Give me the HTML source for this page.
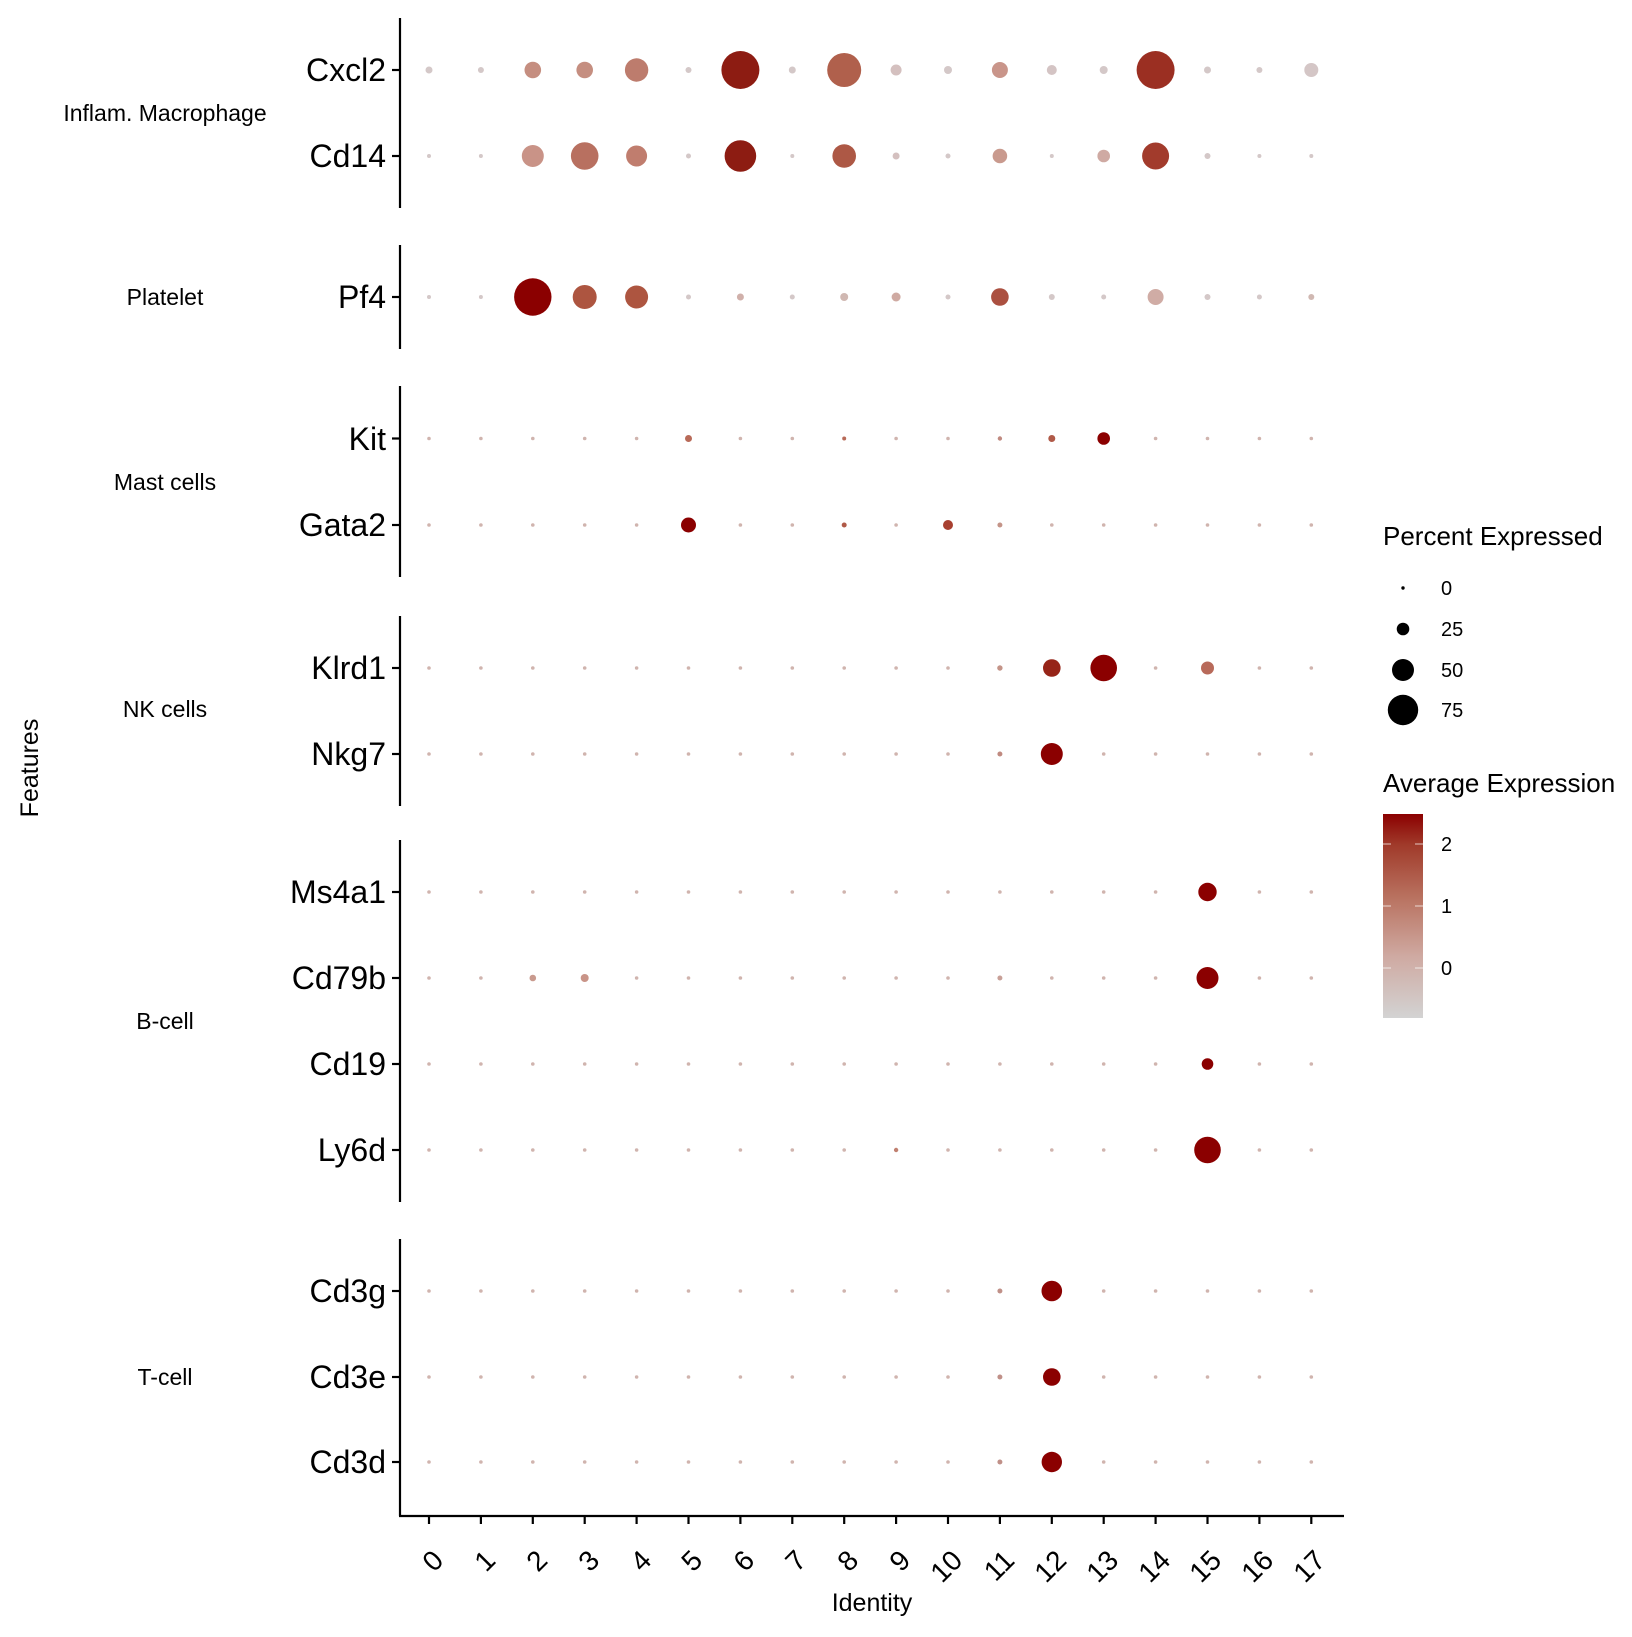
<!DOCTYPE html>
<html><head><meta charset="utf-8"><style>
html,body{margin:0;padding:0;background:#fff;}
svg text{font-family:"Liberation Sans",Arial,sans-serif;fill:#000;}
</style></head><body>
<svg id="s" width="1632" height="1632" viewBox="0 0 1632 1632" xmlns="http://www.w3.org/2000/svg">
<defs><linearGradient id="g" x1="0" y1="1" x2="0" y2="0">
<stop offset="0" stop-color="#d3d3d3"/><stop offset="0.3" stop-color="#cfaaa2"/><stop offset="0.6" stop-color="#b8705e"/><stop offset="0.85" stop-color="#a03a2a"/><stop offset="1" stop-color="#8b0000"/></linearGradient></defs>
<g stroke="#000" stroke-width="2.2">
<line x1="400" y1="18" x2="400" y2="208"/>
<line x1="400" y1="245" x2="400" y2="349"/>
<line x1="400" y1="386" x2="400" y2="577"/>
<line x1="400" y1="616" x2="400" y2="806"/>
<line x1="400" y1="840" x2="400" y2="1202"/>
<line x1="400" y1="1239" x2="400" y2="1516"/>
<line x1="399" y1="1516" x2="1344" y2="1516"/>
</g>
<g id="ticks" stroke="#000" stroke-width="2.2"></g>
<g font-size="32" text-anchor="end">
<text x="386" y="81">Cxcl2</text><text x="386" y="167">Cd14</text>
<text x="386" y="308">Pf4</text>
<text x="386" y="450">Kit</text><text x="386" y="536">Gata2</text>
<text x="386" y="679">Klrd1</text><text x="386" y="765">Nkg7</text>
<text x="386" y="903">Ms4a1</text><text x="386" y="989">Cd79b</text><text x="386" y="1075">Cd19</text><text x="386" y="1161">Ly6d</text>
<text x="386" y="1302">Cd3g</text><text x="386" y="1388">Cd3e</text><text x="386" y="1473">Cd3d</text>
</g>
<g font-size="23" text-anchor="middle">
<text x="165" y="121">Inflam. Macrophage</text>
<text x="165" y="305">Platelet</text>
<text x="165" y="490">Mast cells</text>
<text x="165" y="717">NK cells</text>
<text x="165" y="1029">B-cell</text>
<text x="165" y="1385">T-cell</text>
</g>
<text x="38" y="768" font-size="25" text-anchor="middle" transform="rotate(-90 38 768)">Features</text>
<text x="872" y="1611" font-size="25" text-anchor="middle">Identity</text>
<g font-size="28" text-anchor="end">
<text transform="translate(445,1562) rotate(-45)">0</text>
<text transform="translate(497,1562) rotate(-45)">1</text>
<text transform="translate(549,1562) rotate(-45)">2</text>
<text transform="translate(601,1562) rotate(-45)">3</text>
<text transform="translate(653,1562) rotate(-45)">4</text>
<text transform="translate(704,1562) rotate(-45)">5</text>
<text transform="translate(756,1562) rotate(-45)">6</text>
<text transform="translate(808,1562) rotate(-45)">7</text>
<text transform="translate(860,1562) rotate(-45)">8</text>
<text transform="translate(912,1562) rotate(-45)">9</text>
<text transform="translate(964,1562) rotate(-45)">10</text>
<text transform="translate(1016,1562) rotate(-45)">11</text>
<text transform="translate(1068,1562) rotate(-45)">12</text>
<text transform="translate(1120,1562) rotate(-45)">13</text>
<text transform="translate(1172,1562) rotate(-45)">14</text>
<text transform="translate(1223,1562) rotate(-45)">15</text>
<text transform="translate(1275,1562) rotate(-45)">16</text>
<text transform="translate(1327,1562) rotate(-45)">17</text>
</g>
<text x="1383" y="545" font-size="26">Percent Expressed</text>
<circle cx="1403" cy="588" r="1.7" fill="#000"/>
<circle cx="1403" cy="629" r="6.3" fill="#000"/>
<circle cx="1403" cy="670" r="11" fill="#000"/>
<circle cx="1403" cy="710" r="15.2" fill="#000"/>
<g font-size="20"><text x="1441" y="595">0</text><text x="1441" y="636">25</text><text x="1441" y="677">50</text><text x="1441" y="717">75</text>
<text x="1441" y="851">2</text><text x="1441" y="913">1</text><text x="1441" y="975">0</text></g>
<text x="1383" y="792" font-size="26">Average Expression</text>
<rect x="1383" y="814" width="40" height="204" fill="url(#g)"/>
<g stroke="#fff" stroke-opacity="0.6" stroke-width="1.2">
<line x1="1383" y1="844" x2="1391" y2="844"/><line x1="1415" y1="844" x2="1423" y2="844"/>
<line x1="1383" y1="906" x2="1391" y2="906"/><line x1="1415" y1="906" x2="1423" y2="906"/>
<line x1="1383" y1="968" x2="1391" y2="968"/><line x1="1415" y1="968" x2="1423" y2="968"/>
</g>
<g id="dots"></g>
</svg>
<script>
var NS="http://www.w3.org/2000/svg";
var X=[];for(var i=0;i<18;i++)X.push(429+i*51.9);
var G="#d4c8c8",P="#d0b4ae",D="#8b0000";
var rows=[
[70,[3.5,3,8.3,8.3,11.7,3,19,3.5,17,5.5,4,8,5,4,19,3.5,3,7],
 [G,G,"#c58e80","#c58e80","#bd7c6d",G,"#8d1c12",G,"#b0604c","#d4c0bf",G,"#c9958a","#d4c4c4",G,"#9b2f22",G,G,"#d4c6c6"]],
[156,[2,2,11,13.8,10.5,2.5,15.8,2,11.8,3.5,2.5,7.3,2,6.3,13.5,3,2,2],
 [G,G,"#c99387","#b87060","#c07d6e",G,"#8d1c12",G,"#ad5845","#d4c0bf",G,"#c99a8e",G,"#cfaaa3","#a23b2c",G,G,G]],
[297,[2,2,18.7,12,11.5,2.5,3.5,2.5,4,4.5,2.5,8.8,3,2.5,8,3,2.5,3],
 [G,G,D,"#ad5540","#ad5540",G,"#d0b0aa",G,"#d0b8b2","#cfaaa2",G,"#ab5040",G,G,"#d0aca5",G,G,"#d0b8b2"]],
[438.5,{5:[3.5,"#b86a58"],8:[2,"#b86a58"],11:[2.2,"#c08a80"],12:[3.5,"#b05a48"],13:[6.3,D]}],
[525,{5:[7.5,D],8:[2.5,"#b05a48"],10:[5,"#a84030"],11:[2.5,"#c49488"]}],
[668,{11:[2.7,"#c49488"],12:[8.8,"#962418"],13:[13.3,D],15:[6.5,"#b86a5a"]}],
[754,{11:[2.5,"#c08a80"],12:[11,D]}],
[892,{15:[9.2,D]}],
[978,{2:[3.3,"#c99a8e"],3:[4,"#c99488"],11:[2.5,"#c8a098"],15:[11,D]}],
[1064,{15:[5.8,D]}],
[1150,{9:[2.2,"#c08070"],15:[13.3,D]}],
[1291,{11:[2.5,"#c09088"],12:[10.3,D]}],
[1377,{11:[2.5,"#c09088"],12:[8.8,D]}],
[1462,{11:[2.5,"#c09088"],12:[10.2,D]}]
];
var dg=document.getElementById("dots"),tg=document.getElementById("ticks");
rows.forEach(function(r){
 var y=r[0];
 var t=document.createElementNS(NS,"line");t.setAttribute("x1",392);t.setAttribute("x2",400);t.setAttribute("y1",y);t.setAttribute("y2",y);tg.appendChild(t);
 for(var i=0;i<18;i++){
  var rad,col;
  if(Array.isArray(r[1])){rad=r[1][i];col=r[2][i];}
  else if(r[1][i]){rad=r[1][i][0];col=r[1][i][1];}
  else{rad=1.8;col=P;}
  var c=document.createElementNS(NS,"circle");c.setAttribute("cx",X[i]);c.setAttribute("cy",y);c.setAttribute("r",rad);c.setAttribute("fill",col);dg.appendChild(c);
 }
});
for(var i=0;i<18;i++){var t=document.createElementNS(NS,"line");t.setAttribute("x1",X[i]);t.setAttribute("x2",X[i]);t.setAttribute("y1",1516);t.setAttribute("y2",1524);tg.appendChild(t);}
</script>
</body></html>
